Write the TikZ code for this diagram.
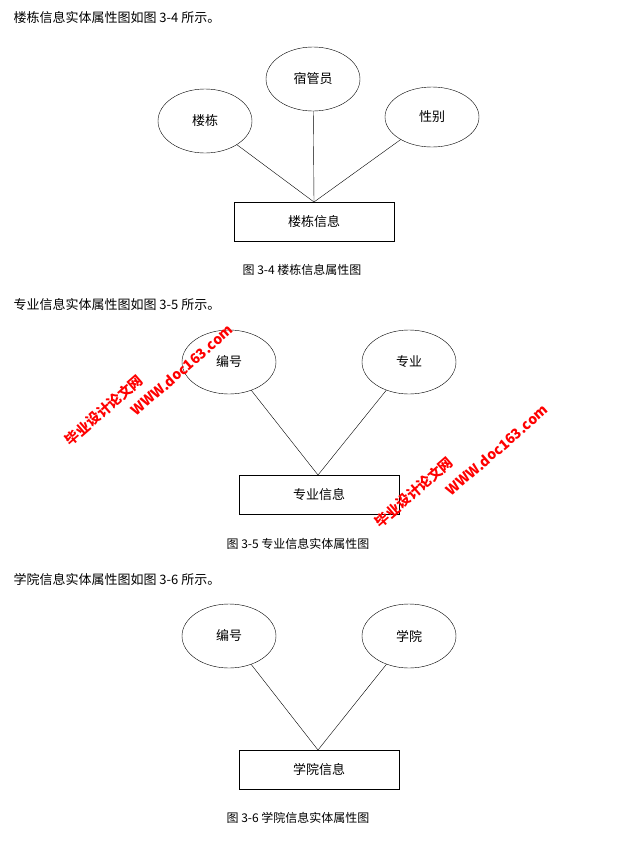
\documentclass[tikz,border=0pt]{standalone}
\usepackage{fontspec}
\setmainfont{Noto Sans CJK SC}
\usetikzlibrary{shapes.geometric}
\begin{document}
\begin{tikzpicture}[x=1pt,y=-1pt,
  attr/.style={draw,ellipse,minimum width=94pt,minimum height=64pt,font=\fontsize{13}{15}\selectfont},
  ent/.style={draw,rectangle,minimum width=160pt,minimum height=39pt,font=\fontsize{13}{15}\selectfont},
  para/.style={anchor=west,font=\fontsize{13}{15}\selectfont},
  figcap/.style={font=\fontsize{12}{14}\selectfont},
  mark163/.style={text=red,font=\bfseries\fontsize{14}{16}\selectfont,rotate=41}]
\useasboundingbox (0,0) rectangle (623,852);
% 3-4
\node[para] (p1) at (10,18) {楼栋信息实体属性图如图 3-4 所示。};
\node[attr] (lou) at (205,121) {楼栋};
\node[attr] (sgy) at (313,79) {宿管员};
\node[attr,minimum height=60pt] (xb) at (432,117) {性别};
\node[ent] (ld) at (314,222) {楼栋信息};
\coordinate (ldt) at (314,202);
\draw (lou) -- (ldt);
\draw (sgy) -- (ldt);
\draw (xb) -- (ldt);
\node[figcap] (c1) at (302,270) {图 3-4 楼栋信息属性图};
% 3-5
\node[para] (p2) at (10,305) {专业信息实体属性图如图 3-5 所示。};
\node[attr] (bh1) at (229,362) {编号};
\node[attr] (zy) at (409,362) {专业};
\node[ent] (zyxx) at (319,495) {专业信息};
\coordinate (zyt) at (318,475);
\draw (bh1) -- (zyt);
\draw (zy) -- (zyt);
\node[figcap] (c2) at (298,544) {图 3-5 专业信息实体属性图};
% 3-6
\node[para] (p3) at (10,580) {学院信息实体属性图如图 3-6 所示。};
\node[attr] (bh2) at (229,636) {编号};
\node[attr] (xy) at (409,636) {学院};
\node[ent] (xyxx) at (319,770) {学院信息};
\coordinate (xyt) at (318,750);
\draw (bh2) -- (xyt);
\draw (xy) -- (xyt);
\node[figcap] (c3) at (298,818) {图 3-6 学院信息实体属性图};
% watermarks
\node[mark163] (w1) at (104,410) {毕业设计论文网};
\node[mark163] (w2) at (182,370) {WWW.doc163.com};
\node[mark163] (w3) at (414,492) {毕业设计论文网};
\node[mark163] (w4) at (497,450) {WWW.doc163.com};
\end{tikzpicture}
\end{document}
